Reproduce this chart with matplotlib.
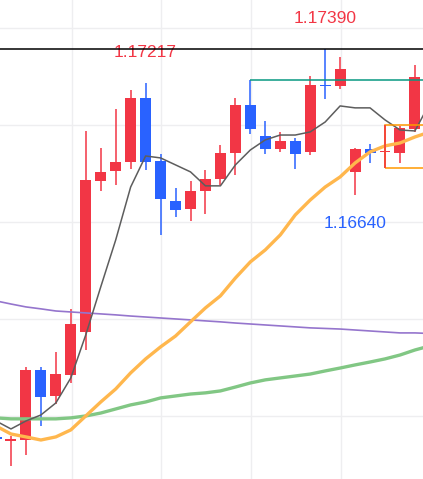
import matplotlib
matplotlib.use("Agg")
import matplotlib.pyplot as plt
from matplotlib.patches import Rectangle
import numpy as np

# candle data (price)
opens = [1.15390, 1.15371, 1.15376, 1.15737, 1.15603, 1.15711, 1.15933, 1.16711, 1.16763, 1.16809,
         1.17139, 1.16814, 1.16608, 1.16567, 1.16660, 1.16722, 1.16856, 1.17103, 1.16943, 1.16876,
         1.16918, 1.16861, 1.17206, 1.17201, 1.16758, 1.16876, 1.16859, 1.16856, 1.16979]
highs = [1.15400, 1.15397, 1.15753, 1.15753, 1.15830, 1.16052, 1.16969, 1.16881, 1.17082, 1.17180,
         1.17217, 1.16851, 1.16675, 1.16711, 1.16768, 1.16897, 1.17139, 1.17232, 1.17021, 1.16964,
         1.16933, 1.17253, 1.17390, 1.17351, 1.16880, 1.16902, 1.17000, 1.16995, 1.17309]
lows = [1.15370, 1.15242, 1.15299, 1.15448, 1.15562, 1.15670, 1.15840, 1.16660, 1.16691, 1.16773,
        1.16768, 1.16433, 1.16526, 1.16505, 1.16541, 1.16691, 1.16742, 1.16954, 1.16851, 1.16861,
        1.16773, 1.16845, 1.17134, 1.17186, 1.16640, 1.16804, 1.16778, 1.16804, 1.16964]
closes = [1.15381, 1.15381, 1.15737, 1.15598, 1.15716, 1.15974, 1.16716, 1.16758, 1.16809, 1.17139,
          1.16809, 1.16619, 1.16562, 1.16660, 1.16722, 1.16856, 1.17103, 1.16979, 1.16876, 1.16918,
          1.16851, 1.17206, 1.17201, 1.17289, 1.16876, 1.16856, 1.16861, 1.16985, 1.17247]

# moving averages (one extra point past the last candle)
ma_gray = [1.15474, 1.15433, 1.15474, 1.15505, 1.15567, 1.15696, 1.15918, 1.16165, 1.16407, 1.16680,
           1.16840, 1.16830, 1.16794, 1.16758, 1.16686, 1.16686, 1.16794, 1.16871, 1.16923, 1.16948,
           1.16948, 1.16964, 1.17015, 1.17098, 1.17088, 1.17088, 1.17026, 1.16974, 1.16969, 1.17113]
ma_orange = [1.15448, 1.15407, 1.15392, 1.15376, 1.15392, 1.15428, 1.15500, 1.15572, 1.15639, 1.15722,
             1.15794, 1.15856, 1.15912, 1.15985, 1.16057, 1.16119, 1.16211, 1.16294, 1.16356, 1.16433,
             1.16536, 1.16613, 1.16680, 1.16732, 1.16804, 1.16861, 1.16892, 1.16907, 1.16938, 1.16964]
ma_purple = [1.16093, 1.16077, 1.16062, 1.16052, 1.16041, 1.16036, 1.16031, 1.16026, 1.16021, 1.16015,
             1.16010, 1.16005, 1.16000, 1.15995, 1.15990, 1.15985, 1.15979, 1.15974, 1.15969, 1.15964,
             1.15959, 1.15954, 1.15951, 1.15948, 1.15943, 1.15938, 1.15933, 1.15928, 1.15928, 1.15925]
ma_green = [1.15490, 1.15485, 1.15485, 1.15485, 1.15485, 1.15490, 1.15500, 1.15515, 1.15536, 1.15557,
            1.15572, 1.15593, 1.15603, 1.15613, 1.15619, 1.15629, 1.15649, 1.15670, 1.15686, 1.15696,
            1.15706, 1.15716, 1.15732, 1.15747, 1.15763, 1.15778, 1.15794, 1.15814, 1.15840, 1.15861]

hi_idx = [10, 22]   # labelled highs
lo_idx = [24]       # labelled low
res_idx = 17        # teal line from this high
box_idx = 26        # orange range box

UP = "#F23645"
DOWN = "#2962FF"

fig = plt.figure(figsize=(4.23, 4.79), dpi=100)
ax = fig.add_axes([0, 0, 1, 1])
ax.set_xlim(0.267, 28.54)
ax.set_ylim(1.15175, 1.17644)

# grid
for gy in [1.155, 1.160, 1.165, 1.170, 1.175]:
    ax.axhline(gy, color="#EEEEF0", lw=1, zorder=0)
for gx in [5.05, 11.03, 17.03, 23.03]:
    ax.axvline(gx, color="#EEEEF0", lw=1, zorder=0)

x = np.arange(len(opens))
o = np.array(opens); c = np.array(closes)
cols = [UP if cc >= oo else DOWN for oo, cc in zip(opens, closes)]
ax.vlines(x, lows, highs, colors=cols, lw=1.1, zorder=2)
body_h = np.maximum(np.abs(c - o), 0.00006)
ax.bar(x, body_h, bottom=np.minimum(o, c), width=0.735, color=cols, zorder=3)

xm = np.arange(len(ma_gray))
ax.plot(xm, ma_purple, color="#9575CD", lw=1.2, zorder=4)
ax.plot(xm, ma_green, color="#81C784", lw=2.4, zorder=4)
ax.plot(xm, ma_orange, color="#FFB74D", lw=2.4, zorder=4)
ax.plot(xm, ma_gray, color="#5D5D5D", lw=1.1, zorder=4)

# levels
ax.axhline(highs[22], color="black", lw=1.1, zorder=5)
ax.hlines(highs[res_idx], res_idx, 30, color="#089981", lw=1.1, zorder=5)
ax.add_patch(Rectangle((box_idx, lows[box_idx]), 10, highs[box_idx] - lows[box_idx],
                       fill=False, edgecolor="#FF9800", lw=1.1, zorder=5))
ax.vlines(box_idx, lows[box_idx], highs[box_idx], colors=UP, lw=1.1, zorder=6)

for i in hi_idx:
    ax.annotate("%.5f" % highs[i], xy=(i, highs[i]), xytext=(0, 21.8), textcoords="offset points",
                ha="center", va="center", color=UP, fontsize=12.5, family="Liberation Sans")
for i in lo_idx:
    ax.annotate("%.5f" % lows[i], xy=(i, lows[i]), xytext=(0, -20.5), textcoords="offset points",
                ha="center", va="center", color=DOWN, fontsize=12.5, family="Liberation Sans")

ax.axis("off")
fig.savefig("out.png", dpi=100)
